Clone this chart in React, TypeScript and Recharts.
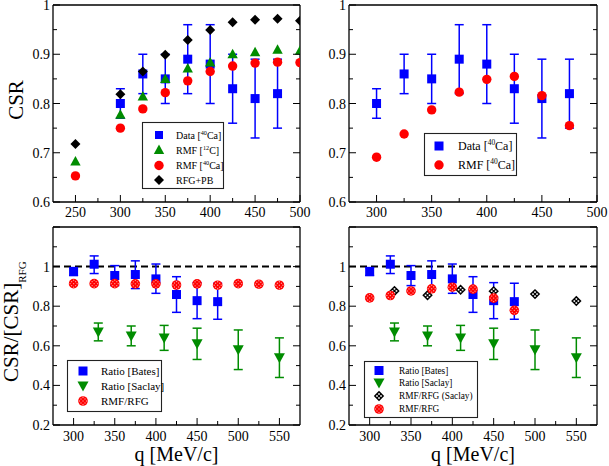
import React from 'react';
import { ScatterChart, Scatter, XAxis, YAxis, ErrorBar, ReferenceLine, Legend } from 'recharts';

const FONT = '"Liberation Serif", "Times New Roman", Times, serif';
const BLUE = '#0000ff';
const GREEN = '#008c00';
const RED = '#ff0000';

// ---------- data ----------
// Top panels
const qBates = [300, 325, 350, 375, 400, 425, 450, 475];
const csrBates = [0.80, 0.86, 0.85, 0.89, 0.88, 0.83, 0.81, 0.82];
const csrBatesHi = [0.83, 0.90, 0.90, 0.96, 0.96, 0.90, 0.89, 0.89];
const csrBatesLo = [0.77, 0.82, 0.80, 0.82, 0.80, 0.76, 0.73, 0.75];

const qTheory = [250, 300, 325, 350, 375, 400, 425, 450, 475, 500];
const rmfC12 = [0.682, 0.777, 0.814, 0.85, 0.871, 0.883, 0.90, 0.904, 0.909, 0.907];
const rmfCa40 = [0.653, 0.75, 0.789, 0.822, 0.846, 0.865, 0.876, 0.882, 0.884, 0.883];
const rfgPb = [0.718, 0.819, 0.865, 0.899, 0.929, 0.949, 0.965, 0.970, 0.972, 0.968];

const rmfCa40Right = [0.691, 0.738, 0.787, 0.823, 0.849, 0.855, 0.816, 0.755];

// Bottom panels
const ratioBates = [0.975, 1.012, 0.955, 0.96, 0.938, 0.859, 0.828, 0.823];
const ratioBatesHi = [0.995, 1.054, 1.005, 1.029, 1.013, 0.949, 0.919, 0.916];
const ratioBatesLo = [0.955, 0.965, 0.904, 0.889, 0.865, 0.769, 0.737, 0.734];

const qSaclay = [330, 370, 410, 450, 500, 550];
const ratioSaclay = [0.67, 0.65, 0.64, 0.61, 0.58, 0.54];
const ratioSaclayErr = [0.045, 0.05, 0.063, 0.079, 0.1, 0.1];

const qRmfRfg = [300, 325, 350, 375, 400, 425, 450, 475, 500, 525, 550];
const rmfRfgLeft = [0.914, 0.914, 0.914, 0.913, 0.913, 0.907, 0.913, 0.906, 0.914, 0.911, 0.906];
const rmfRfgRight = [0.842, 0.854, 0.877, 0.888, 0.896, 0.886, 0.841, 0.779];
const rmfRfgSaclay = [0.877, 0.855, 0.883, 0.876, 0.861, 0.826];

const xTicksTopLeft = [250, 275, 300, 325, 350, 375, 400, 425, 450, 475, 500];
const xTicksTopRight = [300, 325, 350, 375, 400, 425, 450, 475, 500];
const xTicksBottom = [300, 325, 350, 375, 400, 425, 450, 475, 500, 525, 550];
const yTicksTop = [0.6, 0.65, 0.7, 0.75, 0.8, 0.85, 0.9, 0.95, 1.0];
const yTicksBottom = [0.2, 0.3, 0.4, 0.5, 0.6, 0.7, 0.8, 0.9, 1.0, 1.1, 1.2];

// ---------- builders ----------
const pts = (xs: number[], ys: number[]) => ys.map((y, i) => ({ x: xs[i], y }));
const ptsErr = (xs: number[], ys: number[], lo: number[], hi: number[]) =>
  ys.map((y, i) => ({ x: xs[i], y, e: [+(y - lo[i]).toFixed(4), +(hi[i] - y).toFixed(4)] }));
const ptsSym = (xs: number[], ys: number[], err: number[]) =>
  ys.map((y, i) => ({ x: xs[i], y, e: [err[i], err[i]] }));

// ---------- marker shapes ----------
const Square = ({ cx, cy, s = 4.5 }: any) => <rect x={cx - s} y={cy - s} width={2 * s} height={2 * s} fill={BLUE} />;
const TriUp = ({ cx, cy }: any) => (
  <polygon points={`${cx},${cy - 5.5} ${cx - 5.2},${cy + 4} ${cx + 5.2},${cy + 4}`} fill={GREEN} />
);
const TriDown = ({ cx, cy }: any) => (
  <polygon points={`${cx - 5.5},${cy - 4.5} ${cx + 5.5},${cy - 4.5} ${cx},${cy + 5.5}`} fill={GREEN} />
);
const Circle = ({ cx, cy }: any) => <circle cx={cx} cy={cy} r={4.7} fill={RED} />;
const Diamond = ({ cx, cy }: any) => (
  <polygon points={`${cx},${cy - 5} ${cx + 5},${cy} ${cx},${cy + 5} ${cx - 5},${cy}`} fill="#000" />
);
const DotCircle = ({ cx, cy }: any) => (
  <g>
    <circle cx={cx} cy={cy} r={4.8} fill={RED} />
    {[[-2, -2], [2, -2], [0, 0], [-2, 2], [2, 2], [0, -3.5], [0, 3.5], [-3.5, 0], [3.5, 0]].map(([dx, dy], i) => (
      <circle key={i} cx={cx + dx} cy={cy + dy} r={0.7} fill="#ff9a9a" />
    ))}
  </g>
);
const DotDiamond = ({ cx, cy }: any) => (
  <g>
    <polygon points={`${cx},${cy - 5.2} ${cx + 5.2},${cy} ${cx},${cy + 5.2} ${cx - 5.2},${cy}`} fill="#000" />
    {[[0, -2], [-2, 0], [2, 0], [0, 2]].map(([dx, dy], i) => (
      <rect key={i} x={cx + dx - 0.8} y={cy + dy - 0.8} width={1.6} height={1.6} fill="#fff" />
    ))}
  </g>
);

// ---------- ticks ----------
const isMul = (v: number, step: number) => Math.abs(v / step - Math.round(v / step)) < 1e-6;
const fmtY = (v: number) => (Math.abs(v - 1) < 1e-9 ? '1' : v.toFixed(1));
const MAJ = 7;
const MIN = 4;
const TICK_FS = 14;

const bottomTick = (step: number, dy: number) => (p: any) => {
  const v = p.payload.value;
  const major = isMul(v, step);
  return (
    <g>
      <line x1={p.x} y1={p.y} x2={p.x} y2={p.y - (major ? MAJ : MIN)} stroke="#000" strokeWidth={1} />
      {major && (
        <text x={p.x} y={p.y + dy} textAnchor="middle" fontSize={TICK_FS} fontFamily={FONT} fill="#000">
          {v}
        </text>
      )}
    </g>
  );
};
const topTick = (step: number) => (p: any) => {
  const major = isMul(p.payload.value, step);
  return <line x1={p.x} y1={p.y} x2={p.x} y2={p.y + (major ? MAJ : MIN)} stroke="#000" strokeWidth={1} />;
};
const leftTick = (step: number, maxLabel: number) => (p: any) => {
  const v = p.payload.value;
  const major = isMul(v, step);
  return (
    <g>
      <line x1={p.x} y1={p.y} x2={p.x + (major ? MAJ : MIN)} y2={p.y} stroke="#000" strokeWidth={1} />
      {major && v <= maxLabel + 1e-9 && (
        <text x={p.x - 3} y={p.y + 5} textAnchor="end" fontSize={TICK_FS} fontFamily={FONT} fill="#000">
          {fmtY(v)}
        </text>
      )}
    </g>
  );
};
const rightTick = (step: number) => (p: any) => {
  const major = isMul(p.payload.value, step);
  return <line x1={p.x} y1={p.y} x2={p.x - (major ? MAJ : MIN)} y2={p.y} stroke="#000" strokeWidth={1} />;
};

const AXIS_LINE = { stroke: '#000', strokeWidth: 1.3 };

function frameAxes(xDomain: number[], xTicks: number[], yDomain: number[], yTicks: number[], yStep: number, yMaxLabel: number, xDy: number) {
  return [
    <XAxis key="xb" xAxisId={0} type="number" dataKey="x" domain={xDomain} ticks={xTicks} interval={0}
      allowDataOverflow height={1} tickSize={0} tickMargin={0} tickLine={false} axisLine={AXIS_LINE}
      tick={bottomTick(50, xDy)} />,
    <XAxis key="xt" xAxisId="top" orientation="top" type="number" domain={xDomain} ticks={xTicks} interval={0}
      allowDataOverflow height={1} tickSize={0} tickMargin={0} tickLine={false} axisLine={AXIS_LINE}
      tick={topTick(50)} />,
    <YAxis key="yl" yAxisId={0} type="number" dataKey="y" domain={yDomain} ticks={yTicks} interval={0}
      allowDataOverflow width={1} tickSize={0} tickMargin={0} tickLine={false} axisLine={AXIS_LINE}
      tick={leftTick(yStep, yMaxLabel)} />,
    <YAxis key="yr" yAxisId="right" orientation="right" type="number" domain={yDomain} ticks={yTicks} interval={0}
      allowDataOverflow width={1} tickSize={0} tickMargin={0} tickLine={false} axisLine={AXIS_LINE}
      tick={rightTick(yStep)} />,
  ];
}

// ---------- legend ----------
type LegItem = { sym: (x: number, y: number) => React.ReactNode; label: React.ReactNode; y: number };
function LegendBox({ w, h, items, fs, symX, textX }: { w: number; h: number; items: LegItem[]; fs: number; symX: number; textX: number }) {
  return (
    <svg width={w} height={h} style={{ display: 'block', overflow: 'visible' }}>
      <rect x={0.5} y={0.5} width={w - 1} height={h - 1} fill="#fff" stroke="#222" strokeWidth={1.1} />
      {items.map((it, i) => (
        <g key={i}>
          {it.sym(symX, it.y)}
          <text x={textX} y={it.y + fs * 0.35} fontSize={fs} fontFamily={FONT} fill="#000">
            {it.label}
          </text>
        </g>
      ))}
    </svg>
  );
}
const sup = (pre: string, s: string, post: string, fs: number) => (
  <>
    {pre}
    <tspan dy={-fs * 0.4} fontSize={fs * 0.62}>{s}</tspan>
    <tspan dy={fs * 0.4}>{post}</tspan>
  </>
);

const legendPos = (left: number, top: number, w: number, h: number) => ({
  layout: 'horizontal' as const,
  verticalAlign: 'middle' as const,
  align: 'center' as const,
  width: w,
  height: h,
  wrapperStyle: { left, top, width: w, height: h, margin: 0, padding: 0 },
});

// ---------- panels ----------
// top charts are placed 8px above the page top so that the "1" labels are not clipped
const TOP_SHIFT = 8;
const TOP_H = 225 + TOP_SHIFT;
const LEFT_W = 305;
const RIGHT_W = 304;
const BOT_H = 241;

function TopLeft() {
  const fs = 10;
  return (
    <ScatterChart width={LEFT_W + 15} height={TOP_H} margin={{ top: 4 + TOP_SHIFT, right: 19, bottom: 22, left: 52 }}>
      {frameAxes([225, 500], xTicksTopLeft, [0.6, 1], yTicksTop, 0.1, 1, 15)}
      <Scatter data={ptsErr(qBates, csrBates, csrBatesLo, csrBatesHi)} shape={(p: any) => <Square cx={p.cx} cy={p.cy} />} isAnimationActive={false}>
        <ErrorBar dataKey="e" direction="y" width={4.5} stroke={BLUE} strokeWidth={1.5} isAnimationActive={false} />
      </Scatter>
      <Scatter data={pts(qTheory, rmfC12)} shape={(p: any) => <TriUp cx={p.cx} cy={p.cy} />} isAnimationActive={false} />
      <Scatter data={pts(qTheory, rmfCa40)} shape={(p: any) => <Circle cx={p.cx} cy={p.cy} />} isAnimationActive={false} />
      <Scatter data={pts(qTheory, rfgPb)} shape={(p: any) => <Diamond cx={p.cx} cy={p.cy} />} isAnimationActive={false} />
      <Legend {...legendPos(142, 122 + TOP_SHIFT, 82, 67)} content={() => (
        <LegendBox w={82} h={67} fs={fs} symX={17} textX={34} items={[
          { sym: (x, y) => <Square cx={x} cy={y} s={4} />, label: sup('Data [', '40', 'Ca]', fs), y: 13 },
          { sym: (x, y) => <TriUp cx={x} cy={y} />, label: sup('RMF [', '12', 'C]', fs), y: 28 },
          { sym: (x, y) => <Circle cx={x} cy={y} />, label: sup('RMF [', '40', 'Ca]', fs), y: 43.5 },
          { sym: (x, y) => <Diamond cx={x} cy={y} />, label: 'RFG+PB', y: 58 },
        ]} />
      )} />
    </ScatterChart>
  );
}

function TopRight() {
  const fs = 12;
  return (
    <ScatterChart width={RIGHT_W} height={TOP_H} margin={{ top: 4 + TOP_SHIFT, right: 11, bottom: 22, left: 43 }}>
      {frameAxes([275, 500], xTicksTopRight, [0.6, 1], yTicksTop, 0.1, 1, 15)}
      <Scatter data={ptsErr(qBates, csrBates, csrBatesLo, csrBatesHi)} shape={(p: any) => <Square cx={p.cx} cy={p.cy} />} isAnimationActive={false}>
        <ErrorBar dataKey="e" direction="y" width={4.5} stroke={BLUE} strokeWidth={1.5} isAnimationActive={false} />
      </Scatter>
      <Scatter data={pts(qBates, rmfCa40Right)} shape={(p: any) => <Circle cx={p.cx} cy={p.cy} />} isAnimationActive={false} />
      <Legend {...legendPos(119, 133 + TOP_SHIFT, 93, 43)} content={() => (
        <LegendBox w={93} h={43} fs={fs} symX={15} textX={34} items={[
          { sym: (x, y) => <Square cx={x} cy={y} s={4.5} />, label: sup('Data [', '40', 'Ca]', fs), y: 13 },
          { sym: (x, y) => <Circle cx={x} cy={y} />, label: sup('RMF [', '40', 'Ca]', fs), y: 32 },
        ]} />
      )} />
    </ScatterChart>
  );
}

function BottomLeft() {
  const fs = 11;
  return (
    <ScatterChart width={LEFT_W} height={BOT_H} margin={{ top: 1, right: 4, bottom: 40, left: 52 }}>
      {frameAxes([275, 575], xTicksBottom, [0.2, 1.2], yTicksBottom, 0.2, 1, 16)}
      <ReferenceLine y={1} stroke="#000" strokeWidth={2} strokeDasharray="7 4" />
      <Scatter data={ptsErr(qBates, ratioBates, ratioBatesLo, ratioBatesHi)} shape={(p: any) => <Square cx={p.cx} cy={p.cy} />} isAnimationActive={false}>
        <ErrorBar dataKey="e" direction="y" width={4.5} stroke={BLUE} strokeWidth={1.5} isAnimationActive={false} />
      </Scatter>
      <Scatter data={ptsSym(qSaclay, ratioSaclay, ratioSaclayErr)} shape={(p: any) => <TriDown cx={p.cx} cy={p.cy} />} isAnimationActive={false}>
        <ErrorBar dataKey="e" direction="y" width={4.5} stroke={GREEN} strokeWidth={1.5} isAnimationActive={false} />
      </Scatter>
      <Scatter data={pts(qRmfRfg, rmfRfgLeft)} shape={(p: any) => <DotCircle cx={p.cx} cy={p.cy} />} isAnimationActive={false} />
      <Legend {...legendPos(67, 135, 95, 52)} content={() => (
        <LegendBox w={95} h={52} fs={fs} symX={16} textX={34} items={[
          { sym: (x, y) => <Square cx={x} cy={y} s={4.5} />, label: 'Ratio [Bates]', y: 11 },
          { sym: (x, y) => <TriDown cx={x} cy={y} />, label: 'Ratio [Saclay]', y: 26 },
          { sym: (x, y) => <DotCircle cx={x} cy={y} />, label: 'RMF/RFG', y: 41 },
        ]} />
      )} />
    </ScatterChart>
  );
}

function BottomRight() {
  const fs = 9.3;
  return (
    <ScatterChart width={RIGHT_W} height={BOT_H} margin={{ top: 1, right: 11, bottom: 40, left: 43 }}>
      {frameAxes([275, 575], xTicksBottom, [0.2, 1.2], yTicksBottom, 0.2, 1, 16)}
      <ReferenceLine y={1} stroke="#000" strokeWidth={2} strokeDasharray="7 4" />
      <Scatter data={ptsErr(qBates, ratioBates, ratioBatesLo, ratioBatesHi)} shape={(p: any) => <Square cx={p.cx} cy={p.cy} />} isAnimationActive={false}>
        <ErrorBar dataKey="e" direction="y" width={4.5} stroke={BLUE} strokeWidth={1.5} isAnimationActive={false} />
      </Scatter>
      <Scatter data={ptsSym(qSaclay, ratioSaclay, ratioSaclayErr)} shape={(p: any) => <TriDown cx={p.cx} cy={p.cy} />} isAnimationActive={false}>
        <ErrorBar dataKey="e" direction="y" width={4.5} stroke={GREEN} strokeWidth={1.5} isAnimationActive={false} />
      </Scatter>
      <Scatter data={pts(qSaclay, rmfRfgSaclay)} shape={(p: any) => <DotDiamond cx={p.cx} cy={p.cy} />} isAnimationActive={false} />
      <Scatter data={pts(qBates, rmfRfgRight)} shape={(p: any) => <DotCircle cx={p.cx} cy={p.cy} />} isAnimationActive={false} />
      <Legend {...legendPos(59, 136, 114, 57)} content={() => (
        <LegendBox w={114} h={57} fs={fs} symX={15} textX={35} items={[
          { sym: (x, y) => <Square cx={x} cy={y} s={4.5} />, label: 'Ratio [Bates]', y: 9.5 },
          { sym: (x, y) => <TriDown cx={x} cy={y} />, label: 'Ratio [Saclay]', y: 22 },
          { sym: (x, y) => <DotDiamond cx={x} cy={y} />, label: 'RMF/RFG (Saclay)', y: 35 },
          { sym: (x, y) => <DotCircle cx={x} cy={y} />, label: 'RMF/RFG', y: 48 },
        ]} />
      )} />
    </ScatterChart>
  );
}

export default function App() {
  const abs = (left: number, top: number): React.CSSProperties => ({ position: 'absolute', left, top });
  return (
    <div style={{ position: 'absolute', left: 0, top: 0, width: 609, height: 466, background: '#fff', overflow: 'hidden' }}>
      <div style={abs(0, 225)}><BottomLeft /></div>
      <div style={abs(305, 225)}><BottomRight /></div>
      <div style={abs(0, -TOP_SHIFT)}><TopLeft /></div>
      <div style={abs(305, -TOP_SHIFT)}><TopRight /></div>
      <svg width={609} height={466} style={{ position: 'absolute', left: 0, top: 0, pointerEvents: 'none' }}>
        <text transform="translate(23,100) rotate(-90)" textAnchor="middle" fontSize={21} fontFamily={FONT} fill="#000">
          CSR
        </text>
        <text transform="translate(18,382) rotate(-90)" textAnchor="start" fontSize={21} fontFamily={FONT} fill="#000">
          CSR/[CSR]<tspan dy={8} fontSize={11}>RFG</tspan>
        </text>
        <text x={176.5} y={461} textAnchor="middle" fontSize={20} fontFamily={FONT} fill="#000">q [MeV/c]</text>
        <text x={473} y={461} textAnchor="middle" fontSize={20} fontFamily={FONT} fill="#000">q [MeV/c]</text>
      </svg>
    </div>
  );
}
